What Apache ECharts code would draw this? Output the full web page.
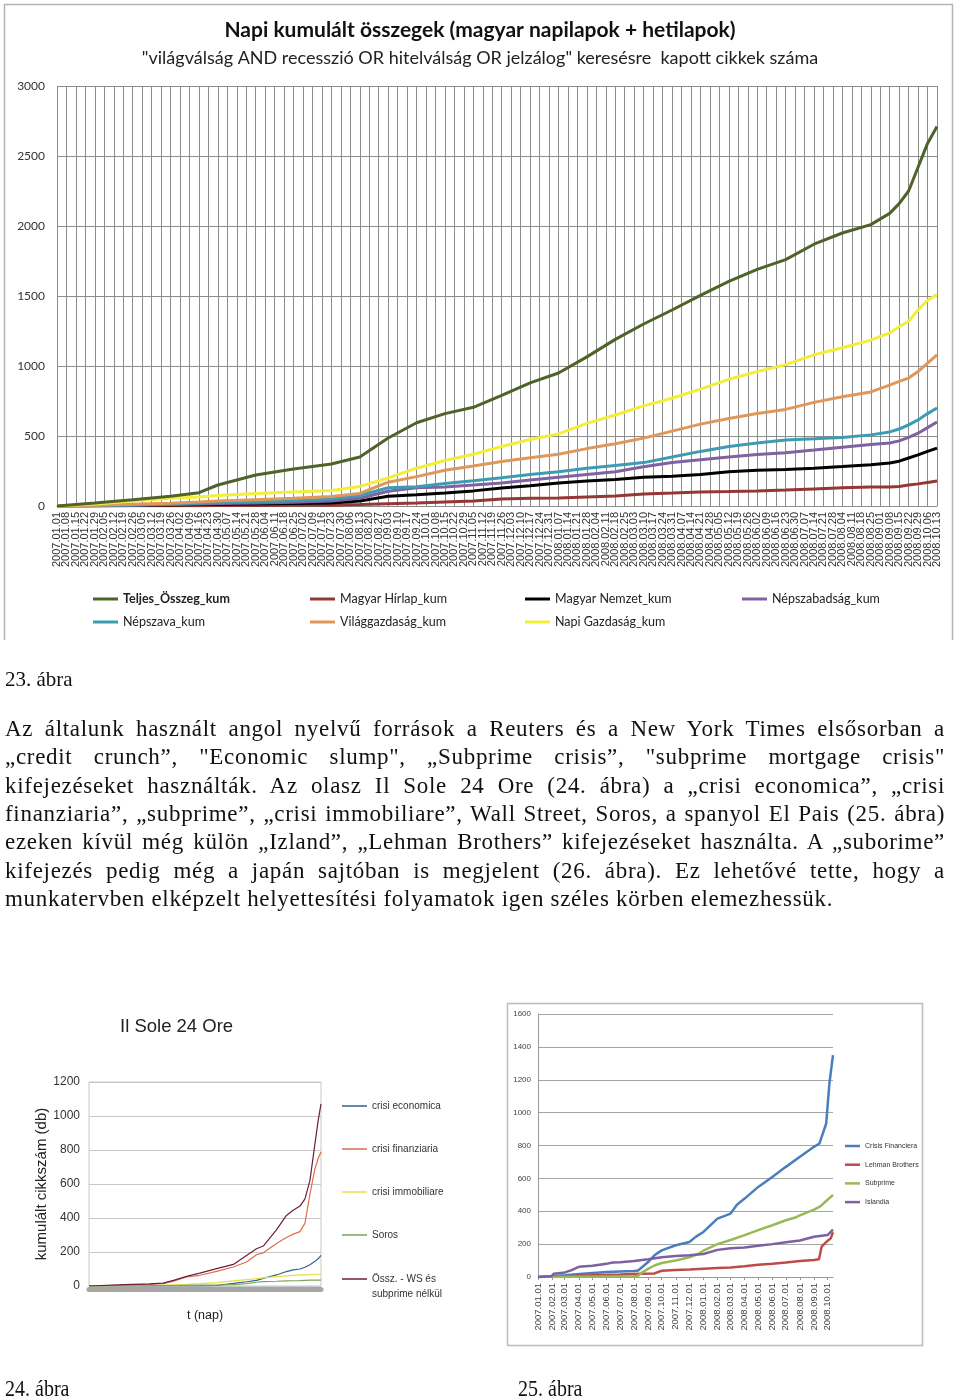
<!DOCTYPE html>
<html><head><meta charset="utf-8">
<script src="https://cdn.jsdelivr.net/npm/echarts@6/dist/echarts.min.js"></script>
<style>
html,body{margin:0;padding:0;background:#fff;}
#chart{position:absolute;left:0;top:0;width:960px;height:1398px;}
.t{position:absolute;font-family:'Liberation Serif','Times New Roman',serif;color:#111;white-space:nowrap;}
.jl{left:5px;font-size:23px;line-height:28.33px;height:28.33px;letter-spacing:0.7px;}
.cap{font-size:20px;line-height:24px;transform:scaleY(1.18);transform-origin:0 19px;}
</style></head><body>
<div id="chart"></div>
<div class="t" style="left:5px;top:667px;font-size:21px;line-height:24px;">23. ábra</div>
<div class="t jl j" style="top:715px"><span>Az általunk használt angol nyelvű források a Reuters és a New York Times elsősorban a</span></div>
<div class="t jl j" style="top:743.3px"><span>„credit crunch”, "Economic slump", „Subprime crisis”, "subprime mortgage crisis"</span></div>
<div class="t jl j" style="top:771.7px"><span>kifejezéseket használták. Az olasz Il Sole 24 Ore (24. ábra) a „crisi economica”, „crisi</span></div>
<div class="t jl j" style="top:800px"><span>finanziaria”, „subprime”, „crisi immobiliare”, Wall Street, Soros, a spanyol El Pais (25. ábra)</span></div>
<div class="t jl j" style="top:828.3px"><span>ezeken kívül még külön „Izland”, „Lehman Brothers” kifejezéseket használta. A „suborime”</span></div>
<div class="t jl j" style="top:856.7px"><span>kifejezés pedig még a japán sajtóban is megjelent (26. ábra). Ez lehetővé tette, hogy a</span></div>
<div class="t jl" style="top:885px"><span>munkatervben elképzelt helyettesítési folyamatok igen széles körben elemezhessük.</span></div>
<div class="t cap" style="left:5px;top:1377px;">24. ábra</div>
<div class="t cap" style="left:518px;top:1377px;">25. ábra</div>
<script>
// ---------- 23. ábra (weekly cumulative sums) ----------
const weeks = ['2007.01.01','2007.01.08','2007.01.15','2007.01.22','2007.01.29','2007.02.05','2007.02.12','2007.02.19','2007.02.26','2007.03.05','2007.03.12','2007.03.19','2007.03.26','2007.04.02','2007.04.09','2007.04.16','2007.04.23','2007.04.30','2007.05.07','2007.05.14','2007.05.21','2007.05.28','2007.06.04','2007.06.11','2007.06.18','2007.06.25','2007.07.02','2007.07.09','2007.07.16','2007.07.23','2007.07.30','2007.08.06','2007.08.13','2007.08.20','2007.08.27','2007.09.03','2007.09.10','2007.09.17','2007.09.24','2007.10.01','2007.10.08','2007.10.15','2007.10.22','2007.10.29','2007.11.05','2007.11.12','2007.11.19','2007.11.26','2007.12.03','2007.12.10','2007.12.17','2007.12.24','2007.12.31','2008.01.07','2008.01.14','2008.01.21','2008.01.28','2008.02.04','2008.02.11','2008.02.18','2008.02.25','2008.03.03','2008.03.10','2008.03.17','2008.03.24','2008.03.31','2008.04.07','2008.04.14','2008.04.21','2008.04.28','2008.05.05','2008.05.12','2008.05.19','2008.05.26','2008.06.02','2008.06.09','2008.06.16','2008.06.23','2008.06.30','2008.07.07','2008.07.14','2008.07.21','2008.07.28','2008.08.04','2008.08.11','2008.08.18','2008.08.25','2008.09.01','2008.09.08','2008.09.15','2008.09.22','2008.09.29','2008.10.06','2008.10.13'];
const weekSamples = [0,4,8,12,15,17,21,25,29,32,35,38,41,44,47,50,53,56,59,62,65,68,71,74,77,80,83,86,88,89,90,91,92,93];
const teljes        = [0,22,45,70,95,150,221,265,300,350,486,595,660,705,790,880,950,1065,1190,1300,1400,1505,1605,1690,1760,1870,1950,2010,2090,2160,2250,2420,2590,2710];
const magyarHirlap  = [0,0,1,2,2,3,4,5,6,10,16,21,28,35,50,56,58,65,72,85,92,100,103,108,114,122,130,136,136,140,150,158,168,178];
const magyarNemzet  = [0,2,4,7,10,12,15,18,21,35,70,80,93,108,128,145,165,178,190,205,212,225,245,255,260,270,282,295,307,320,343,365,390,414];
const nepszabadsag  = [0,2,6,10,15,18,22,27,35,55,105,130,136,150,165,185,205,225,245,280,310,330,350,368,381,400,420,440,450,465,490,520,560,600];
const nepszava      = [0,3,8,14,20,24,30,38,50,75,130,138,160,180,202,225,245,270,290,310,350,390,425,450,472,480,490,508,529,550,579,615,660,700];
const vilaggazdasag = [0,5,12,20,28,35,45,55,68,90,170,210,255,285,318,345,370,410,445,485,535,585,625,660,690,740,780,815,864,890,914,960,1020,1080];
const napiGazdasag  = [0,15,35,55,65,75,90,100,110,140,200,270,325,370,425,475,515,590,650,715,770,835,905,960,1010,1080,1130,1185,1236,1280,1320,1400,1470,1510];

// ---------- 24. ábra (Il Sole 24 Ore, days) ----------
const soleDays         = [0,100,170,208,237,274,311,358,405,442,470,489,526,554,573,592,606,620,634,643,651];
const crisiEconomica   = [0,0,0,0,0,0,1,3,15,25,33,45,65,85,95,100,110,125,145,160,180];
const crisiFinanziaria = [0,5,10,14,29,53,63,86,112,141,184,195,250,285,305,320,370,540,690,750,788];
const crisiImmobiliare = [0,1,3,5,7,10,14,20,30,38,43,48,55,60,63,65,66,67,68,69,70];
const soros            = [0,1,2,3,3,4,5,6,8,14,22,26,28,30,31,32,33,34,34,35,35];
const osszNelkul       = [0,8,12,17,33,57,76,102,127,180,219,235,330,415,445,470,513,621,836,973,1071];

// ---------- 25. ábra (El Pais) ----------
const finDates = ['2007-01-01','2007-02-01','2007-03-01','2007-04-10','2007-06-01','2007-08-01','2007-08-10','2007-09-01','2007-09-15','2007-10-01','2007-11-01','2007-12-01','2007-12-15','2008-01-01','2008-02-01','2008-03-01','2008-03-15','2008-04-01','2008-05-01','2008-06-01','2008-07-01','2008-08-01','2008-09-01','2008-09-13','2008-09-28','2008-10-05','2008-10-13'];
const finVals  = [0,4,10,20,30,37,40,91,132,162,193,213,244,274,355,386,440,477,548,609,670,731,792,812,934,1177,1350];
const lehDates = ['2007-01-01','2007-03-01','2007-05-01','2007-07-01','2007-08-15','2007-09-15','2007-10-01','2007-11-01','2007-12-01','2008-01-01','2008-02-01','2008-03-01','2008-04-01','2008-05-01','2008-06-01','2008-07-01','2008-08-01','2008-09-01','2008-09-12','2008-09-18','2008-09-25','2008-10-01','2008-10-08','2008-10-13'];
const lehVals  = [0,5,10,15,20,22,38,42,45,50,55,58,65,75,80,88,98,103,108,185,205,220,235,272];
const subDates = ['2007-01-01','2007-04-01','2007-08-01','2007-08-10','2007-08-20','2007-09-01','2007-09-15','2007-10-01','2007-11-01','2007-12-01','2007-12-20','2008-01-01','2008-02-01','2008-03-01','2008-04-01','2008-05-01','2008-06-01','2008-07-01','2008-07-20','2008-08-01','2008-09-01','2008-09-15','2008-10-01','2008-10-13'];
const subVals  = [0,2,5,8,30,50,70,85,100,120,140,160,200,225,255,285,315,345,360,375,410,430,470,500];
const islDates = ['2007-01-01','2007-01-31','2007-02-05','2007-03-01','2007-03-15','2007-04-01','2007-05-01','2007-06-01','2007-06-15','2007-07-01','2007-08-01','2007-09-01','2007-10-01','2007-11-01','2007-12-01','2008-01-01','2008-02-01','2008-03-01','2008-04-01','2008-05-01','2008-06-01','2008-07-01','2008-08-01','2008-09-01','2008-10-01','2008-10-13'];
const islVals  = [0,5,20,28,40,62,68,80,88,90,97,108,120,128,133,140,165,175,180,190,200,212,222,245,255,288];

const pairs = (xs, ys) => xs.map((x, i) => [x, ys[i]]);
const SANS = "'Liberation Sans',Arial,sans-serif";
const LATO = "Lato,'Open Sans',sans-serif";
const plain = v => String(v);

function ln(name, xi, xs, ys, color, width, z) {
  return { name, type: 'line', xAxisIndex: xi, yAxisIndex: xi, data: pairs(xs, ys),
    symbol: 'none', showSymbol: false, color, lineStyle: { color, width }, z: z || 2, silent: true };
}

const chart = echarts.init(document.getElementById('chart'), null, { renderer: 'canvas' });
const legBase = { orient: 'vertical', icon: 'rect', selectedMode: false, padding: 0 };
chart.setOption({
  animation: false,
  backgroundColor: '#fff',
  title: [
    { text: 'Napi kumulált összegek (magyar napilapok + hetilapok)', left: 'center', top: 19.5, padding: 0,
      textStyle: { fontFamily: LATO, fontWeight: 'bold', fontSize: 21, color: '#111' } },
    { text: '"világválság AND recesszió OR hitelválság OR jelzálog" keresésre  kapott cikkek száma', left: 'center', top: 49, padding: 0,
      textStyle: { fontFamily: LATO, fontWeight: 'normal', fontSize: 18, color: '#222' } },
    { text: 'Il Sole 24 Ore', left: 120, top: 1017, padding: 0,
      textStyle: { fontFamily: SANS, fontWeight: 'normal', fontSize: 18.5, color: '#222' } }
  ],
  graphic: [
    { type: 'polyline', shape: { points: [[4.5, 640], [4.5, 4.5], [952.5, 4.5], [952.5, 640]] },
      style: { stroke: '#b4b4b4', lineWidth: 1.5, fill: null }, silent: true },
    { type: 'rect', shape: { x: 507.5, y: 1003.5, width: 415, height: 342 },
      style: { stroke: '#bdbdbd', lineWidth: 1.5, fill: null }, silent: true }
  ],
  grid: [
    { left: 57, top: 86, width: 880, height: 420 },
    { left: 89, top: 1082, width: 232, height: 204, show: true, borderColor: '#c8c8c8', borderWidth: 1 },
    { left: 538, top: 1014, width: 295, height: 263 }
  ],
  xAxis: [
    { type: 'category', gridIndex: 0, data: weeks, boundaryGap: false,
      axisLine: { lineStyle: { color: '#8c8c8c' } }, axisTick: { show: false },
      axisLabel: { interval: 0, rotate: 90, fontSize: 11, fontFamily: SANS, color: '#333', margin: 6 },
      splitLine: { show: true, interval: 0, lineStyle: { color: '#8c8c8c', width: 1 } } },
    { type: 'value', gridIndex: 1, min: 0, max: 651, offset: 3,
      axisLabel: { show: false }, axisTick: { show: false }, splitLine: { show: false },
      axisLine: { onZero: false, lineStyle: { color: '#a6a6a6', width: 5 } },
      name: 't (nap)', nameLocation: 'middle', nameGap: 20,
      nameTextStyle: { fontFamily: SANS, fontSize: 12.5, color: '#222' } },
    { type: 'time', gridIndex: 2, min: '2007-01-01', max: '2008-10-13',
      minInterval: 28 * 86400000, maxInterval: 31 * 86400000,
      axisLine: { lineStyle: { color: '#999' } },
      axisTick: { show: true, length: 3, lineStyle: { color: '#999' } },
      axisLabel: { rotate: 90, formatter: '{yyyy}.{MM}.{dd}', fontSize: 9.5, fontFamily: SANS, color: '#444',
        margin: 6, showMaxLabel: false, hideOverlap: false },
      splitLine: { show: false } }
  ],
  yAxis: [
    { type: 'value', gridIndex: 0, min: 0, max: 3000, interval: 500,
      axisLine: { show: false }, axisTick: { show: false },
      axisLabel: { fontFamily: LATO, fontSize: 12, color: '#333', margin: 12, formatter: plain },
      splitLine: { lineStyle: { color: '#8c8c8c' } } },
    { type: 'value', gridIndex: 1, min: 0, max: 1200, interval: 200,
      axisLine: { show: false }, axisTick: { show: false },
      axisLabel: { fontFamily: SANS, fontSize: 12, color: '#333', margin: 9, formatter: plain },
      splitLine: { lineStyle: { color: '#c8c8c8' } },
      name: 'kumulált cikkszám (db)', nameLocation: 'middle', nameRotate: 90, nameGap: 40,
      nameTextStyle: { fontFamily: SANS, fontSize: 15, color: '#222' } },
    { type: 'value', gridIndex: 2, min: 0, max: 1600, interval: 200,
      axisLine: { show: true, lineStyle: { color: '#999' } }, axisTick: { show: false },
      axisLabel: { fontFamily: SANS, fontSize: 8, color: '#444', margin: 7, formatter: plain },
      splitLine: { lineStyle: { color: '#a6a6a6' } } }
  ],
  legend: [
    Object.assign({}, legBase, { left: 93, top: 591.5, itemGap: 8, itemWidth: 25, itemHeight: 3,
      textStyle: { fontFamily: LATO, fontSize: 12.5, color: '#222', lineHeight: 15 },
      data: [{ name: 'Teljes_Összeg_kum', textStyle: { fontWeight: 'bold' } }, 'Népszava_kum'] }),
    Object.assign({}, legBase, { left: 310, top: 591.5, itemGap: 8, itemWidth: 25, itemHeight: 3,
      textStyle: { fontFamily: LATO, fontSize: 12.5, color: '#222', lineHeight: 15 },
      data: ['Magyar Hírlap_kum', 'Világgazdaság_kum'] }),
    Object.assign({}, legBase, { left: 525, top: 591.5, itemGap: 8, itemWidth: 25, itemHeight: 3,
      textStyle: { fontFamily: LATO, fontSize: 12.5, color: '#222', lineHeight: 15 },
      data: ['Magyar Nemzet_kum', 'Napi Gazdaság_kum'] }),
    Object.assign({}, legBase, { left: 742, top: 591.5, itemGap: 8, itemWidth: 25, itemHeight: 3,
      textStyle: { fontFamily: LATO, fontSize: 12.5, color: '#222', lineHeight: 15 },
      data: ['Népszabadság_kum'] }),
    Object.assign({}, legBase, { left: 342, top: 1098.5, itemGap: 28, itemWidth: 25, itemHeight: 1.5,
      textStyle: { fontFamily: SANS, fontSize: 10, color: '#333', lineHeight: 15 },
      data: ['crisi economica', 'crisi finanziaria', 'crisi immobiliare', 'Soros'] }),
    Object.assign({}, legBase, { left: 342, top: 1256.5, itemWidth: 25, itemHeight: 1.5,
      textStyle: { fontFamily: SANS, fontSize: 10, color: '#333', lineHeight: 15 },
      formatter: () => '\nÖssz. - WS és\nsubprime nélkül',
      data: ['Össz. - WS és subprime nélkül'] }),
    Object.assign({}, legBase, { left: 845, top: 1140.5, itemGap: 7.7, itemWidth: 15, itemHeight: 2.5,
      textStyle: { fontFamily: SANS, fontSize: 7, color: '#333', lineHeight: 11 },
      data: ['Crisis Financiera', 'Lehman Brothers', 'Subprime', 'Islandia'] })
  ],
  series: [
    ln('Magyar Hírlap_kum', 0, weekSamples, magyarHirlap, '#953735', 3),
    ln('Magyar Nemzet_kum', 0, weekSamples, magyarNemzet, '#000000', 3),
    ln('Népszabadság_kum', 0, weekSamples, nepszabadsag, '#7f62a1', 3),
    ln('Népszava_kum', 0, weekSamples, nepszava, '#3d9bb4', 3),
    ln('Világgazdaság_kum', 0, weekSamples, vilaggazdasag, '#e0985a', 3),
    ln('Napi Gazdaság_kum', 0, weekSamples, napiGazdasag, '#f2ee3a', 3),
    ln('Teljes_Összeg_kum', 0, weekSamples, teljes, '#4f6228', 3, 3),
    ln('crisi economica', 1, soleDays, crisiEconomica, '#35608f', 1.2),
    ln('crisi finanziaria', 1, soleDays, crisiFinanziaria, '#de6d4b', 1.2),
    ln('crisi immobiliare', 1, soleDays, crisiImmobiliare, '#e6df48', 1.2),
    ln('Soros', 1, soleDays, soros, '#78a65a', 1.2),
    ln('Össz. - WS és subprime nélkül', 1, soleDays, osszNelkul, '#6e1e3c', 1.2),
    ln('Crisis Financiera', 2, finDates, finVals, '#4a7ebb', 2.5),
    ln('Lehman Brothers', 2, lehDates, lehVals, '#be4b48', 2.5),
    ln('Subprime', 2, subDates, subVals, '#98b954', 2.5),
    ln('Islandia', 2, islDates, islVals, '#7d60a0', 2.5)
  ]
});

// justify body text lines to the column width
document.querySelectorAll('.j').forEach(el => {
  const sp = el.querySelector('span');
  const w = sp.getBoundingClientRect().width;
  const n = (sp.textContent.match(/ /g) || []).length;
  sp.style.wordSpacing = ((940 - w) / n) + 'px';
});
</script>
</body></html>
